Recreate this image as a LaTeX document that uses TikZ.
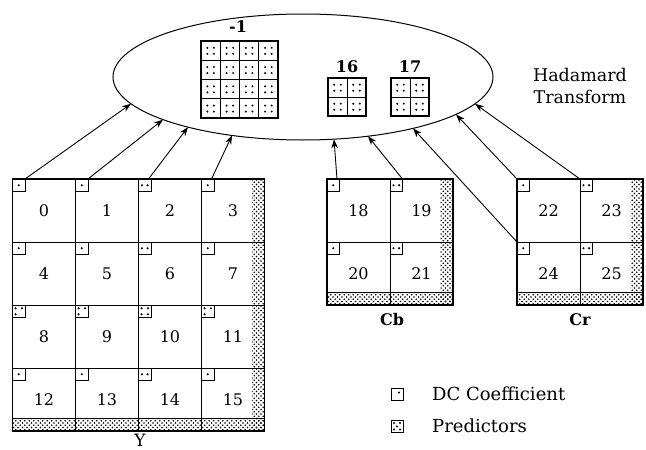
\documentclass[tikz,border=0pt]{standalone}
\usepackage{fontspec}
\setmainfont{DejaVu Serif}
\usetikzlibrary{shapes.geometric,arrows.meta,patterns,calc}
\pgfdeclarepatternformonly{pdots}{\pgfqpoint{-1pt}{-1pt}}{\pgfqpoint{3.5pt}{3.5pt}}{\pgfqpoint{4.5pt}{4.5pt}}{%
  \pgfpathcircle{\pgfqpoint{0pt}{0pt}}{0.9pt}%
  \pgfpathcircle{\pgfqpoint{2.25pt}{2.25pt}}{0.9pt}%
  \pgfusepath{fill}}
\newcommand{\numfont}{\fontsize{16}{18}\selectfont}
\newcommand{\legfont}{\fontsize{18}{20}\selectfont}
\newcommand{\subgrid}[4]{% x0 y0 n size
  \foreach \ii in {1,...,#3}{\foreach \jj in {1,...,#3}{%
    \draw[subcell] ({#1+#4*(\ii-1)},{#2+#4*(\jj-1)}) rectangle +(#4,#4);
    \fill ({#1+#4*(\ii-0.5)-3.3},{#2+#4*(\jj-0.5)-2.8}) circle (1.1pt)
          ({#1+#4*(\ii-0.5)+3.3},{#2+#4*(\jj-0.5)-2.8}) circle (1.1pt)
          ({#1+#4*(\ii-0.5)-3.3},{#2+#4*(\jj-0.5)+3.2}) circle (1.1pt)
          ({#1+#4*(\ii-0.5)+3.3},{#2+#4*(\jj-0.5)+3.2}) circle (1.1pt);
  }}%
  \draw[line width=1.3pt] (#1,#2) rectangle +({#3*#4},{#3*#4});
}
\tikzset{
  cellbox/.style={draw, line width=0.9pt, minimum size=63pt, inner sep=0pt, outer sep=0pt, font=\numfont},
  dcbox/.style={draw, line width=0.8pt, minimum size=12.5pt, inner sep=0pt, outer sep=0pt, anchor=north west},
  dcC/.style={path picture={\fill (path picture bounding box.center) circle (1.2pt);}},
  dcH/.style={path picture={\fill ($(path picture bounding box.center)+(-2.8,0)$) circle (1.2pt)
        ($(path picture bounding box.center)+(2.8,0)$) circle (1.2pt);}},
  dcV/.style={path picture={\fill ($(path picture bounding box.center)+(-3.2,-3)$) circle (1.2pt)
        ($(path picture bounding box.center)+(3.2,-3)$) circle (1.2pt)
        ($(path picture bounding box.center)+(-3.2,3)$) circle (1.2pt);}},
  dcX/.style={path picture={\fill ($(path picture bounding box.center)+(-3.2,-3)$) circle (1.2pt)
        ($(path picture bounding box.center)+(3.2,-3)$) circle (1.2pt)
        ($(path picture bounding box.center)+(-3.2,3)$) circle (1.2pt)
        ($(path picture bounding box.center)+(3.2,3)$) circle (1.2pt);}},
  subcell/.style={line width=0.8pt},
  arr/.style={line width=0.9pt, -{Stealth[length=9pt,width=6.5pt]}},
  outer/.style={line width=1.5pt},
  strip/.style={pattern=pdots},
  lbl/.style={font=\fontsize{16}{18}\selectfont\bfseries, inner sep=0pt},
}
\begin{document}
\begin{tikzpicture}[x=1pt,y=-1pt]
\useasboundingbox (0,0) rectangle (646,450);

% Hadamard ellipse
\node[draw, ellipse, line width=1pt, minimum width=380pt, minimum height=126pt, inner sep=0pt] (had) at (303,77) {};
\node[font=\fontsize{17.5}{22}\selectfont, align=center, inner sep=0pt] (hlabel) at (580,86) {Hadamard\\Transform};

% transform block grids
\subgrid{201}{41}{4}{19.25}
\subgrid{328}{78}{2}{19}
\subgrid{391}{78}{2}{19}
\node[lbl] (m1) at (238,27) {-1};
\node[lbl] (m16) at (347,67) {16};
\node[lbl] (m17) at (410,67) {17};

% predictor strips
\fill[strip] (252,179) rectangle (264.5,431);
\fill[strip] (12.5,418.5) rectangle (264.5,431);
\draw[line width=0.8pt] (12.5,418.5) -- (264.5,418.5);
\fill[strip] (440.5,179) rectangle (453,305);
\fill[strip] (327,292.5) rectangle (453,305);
\draw[line width=0.8pt] (327,292.5) -- (453,292.5);
\fill[strip] (630.5,179) rectangle (643,305);
\fill[strip] (517,292.5) rectangle (643,305);
\draw[line width=0.8pt] (517,292.5) -- (643,292.5);

% Y blocks
\foreach \r in {0,...,3}{\foreach \c in {0,...,3}{%
  \pgfmathtruncatemacro\n{4*\r+\c}
  \node[cellbox] (y\n) at ({44+63*\c},{210.5+63*\r}) {\n};
}}
\foreach \n/\t in {0/C,1/C,2/H,3/C,4/C,5/C,6/H,7/C,8/V,9/V,10/X,11/V,12/C,13/C,14/H,15/C}{%
  \node[dcbox, dc\t] (d\n) at (y\n.north west) {};
}
\draw[outer] (12.5,179) rectangle (264.5,431);
\node[font=\fontsize{17}{18}\selectfont, inner sep=0pt] (ylab) at (140,440) {Y};

% Cb blocks
\node[cellbox] (y18) at (358.5,210.5) {18};
\node[cellbox] (y19) at (421.5,210.5) {19};
\node[cellbox] (y20) at (358.5,273.5) {20};
\node[cellbox] (y21) at (421.5,273.5) {21};
% Cr blocks
\node[cellbox] (y22) at (548.5,210.5) {22};
\node[cellbox] (y23) at (611.5,210.5) {23};
\node[cellbox] (y24) at (548.5,273.5) {24};
\node[cellbox] (y25) at (611.5,273.5) {25};
\foreach \n/\t in {18/C,19/H,20/C,21/H,22/C,23/H,24/C,25/H}{%
  \node[dcbox, dc\t] (d\n) at (y\n.north west) {};
}
\draw[outer] (327,179) rectangle (453,305);
\draw[outer] (517,179) rectangle (643,305);
\node[lbl] (cblab) at (392,320) {Cb};
\node[lbl] (crlab) at (580,320) {Cr};

% arrow end points on the ellipse
\coordinate (e0) at (131,103.8);
\coordinate (e1) at (163,119.6);
\coordinate (e2) at (188,127.1);
\coordinate (e3) at (232,135.4);
\coordinate (e4) at (334,139.2);
\coordinate (e5) at (368,136.2);
\coordinate (e6) at (413,128.4);
\coordinate (e7) at (456,114.4);
\coordinate (e8) at (475,103.8);

\draw[arr] (d0.north east) -- (e0);
\draw[arr] (d1.north east) -- (e1);
\draw[arr] ($(d2.north)!0.6!(d2.north east)$) -- (e2);
\draw[arr] ($(d3.north)!0.6!(d3.north east)$) -- (e3);
\draw[arr] ($(d18.north)!0.6!(d18.north east)$) -- (e4);
\draw[arr] (d19.north east) -- (e5);
\draw[arr] (d24.north west) -- (e6);
\draw[arr] (d22.north west) -- (e7);
\draw[arr] (d23.north west) -- (e8);

% legend
\node[draw, line width=0.8pt, minimum size=12pt, inner sep=0pt] (leg1) at (397,394) {};
\fill ($(leg1.center)+(2,-1.5)$) circle (1.1pt);
\node[font=\legfont, anchor=west, inner sep=0pt] (leg1t) at (432,394) {DC Coefficient};
\node[draw, line width=0.8pt, minimum size=12pt, inner sep=0pt] (leg2) at (397,426) {};
\fill ($(leg2.center)+(-3,-3)$) circle (1.1pt) ($(leg2.center)+(3,-3)$) circle (1.1pt)
      ($(leg2.center)+(0,0.5)$) circle (1.1pt)
      ($(leg2.center)+(-3,3.5)$) circle (1.1pt) ($(leg2.center)+(3,3.5)$) circle (1.1pt);
\node[font=\legfont, anchor=west, inner sep=0pt] (leg2t) at (432,426) {Predictors};
\end{tikzpicture}
\end{document}
